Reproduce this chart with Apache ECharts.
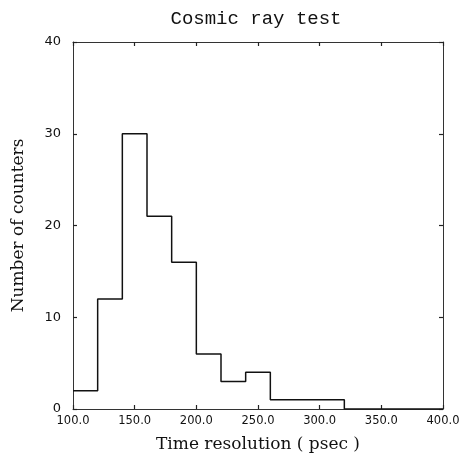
<!DOCTYPE html>
<html>
<head>
<meta charset="utf-8">
<script src="https://cdn.jsdelivr.net/npm/echarts@6/dist/echarts.min.js"></script>
<style>html,body{margin:0;padding:0;background:#fff;}#c{width:460px;height:463px;}</style>
</head>
<body>
<div id="c"></div>
<script>
const binEdges = [100, 120, 140, 160, 180, 200, 220, 240, 260, 280, 300, 320];
const counts = [2, 12, 30, 21, 16, 6, 3, 4, 1, 1, 1];
const xTicks = [100, 150, 200, 250, 300, 350, 400];
const yTicks = [0, 10, 20, 30, 40];

const stepData = [];
for (let i = 0; i < counts.length; i++) stepData.push([binEdges[i], counts[i]]);
stepData.push([binEdges[binEdges.length - 1], 0]);
stepData.push([xTicks[xTicks.length - 1], 0]);

const chart = echarts.init(document.getElementById('c'));
const axisLine = { show: true, onZero: false, lineStyle: { color: '#333', width: 1 } };
const tick = { show: true, inside: true, length: 4, lineStyle: { color: '#222', width: 1.2 } };
chart.setOption({
  animation: false,
  backgroundColor: '#fff',
  title: {
    text: 'Cosmic ray test', left: 251, top: 4, textAlign: 'center',
    textStyle: { fontFamily: 'Liberation Mono', fontWeight: 'normal', fontSize: 19, color: '#111' }
  },
  grid: { left: 73, right: 17, top: 42, bottom: 54, containLabel: false, outerBoundsMode: 'none' },
  xAxis: [{
    type: 'value', min: xTicks[0], max: xTicks[xTicks.length - 1], interval: 50,
    axisLine, axisTick: tick, splitLine: { show: false },
    axisLabel: { formatter: v => v.toFixed(1), fontFamily: 'DejaVu Sans', fontSize: 11.5, color: '#111', margin: 6 },
    name: 'Time resolution ( psec )', nameLocation: 'middle', nameGap: 27,
    nameTextStyle: { fontFamily: 'DejaVu Serif', fontSize: 17, color: '#111' }
  }, {
    type: 'value', position: 'top', min: xTicks[0], max: xTicks[xTicks.length - 1], interval: 50,
    axisLine, axisTick: tick, axisLabel: { show: false }, splitLine: { show: false }
  }],
  yAxis: [{
    type: 'value', min: yTicks[0], max: yTicks[yTicks.length - 1], interval: 10,
    axisLine, axisTick: tick, splitLine: { show: false },
    axisLabel: { fontFamily: 'DejaVu Sans', fontSize: 13, color: '#111', margin: 12 },
    name: 'Number of counters', nameLocation: 'middle', nameGap: 46,
    nameTextStyle: { fontFamily: 'DejaVu Serif', fontSize: 17, color: '#111' }
  }, {
    type: 'value', position: 'right', min: yTicks[0], max: yTicks[yTicks.length - 1], interval: 10,
    axisLine, axisTick: tick, axisLabel: { show: false }, splitLine: { show: false }
  }],
  series: [{
    type: 'line', step: 'end', data: stepData, showSymbol: false,
    lineStyle: { color: '#111', width: 1.5 }
  }]
});
</script>
</body>
</html>
